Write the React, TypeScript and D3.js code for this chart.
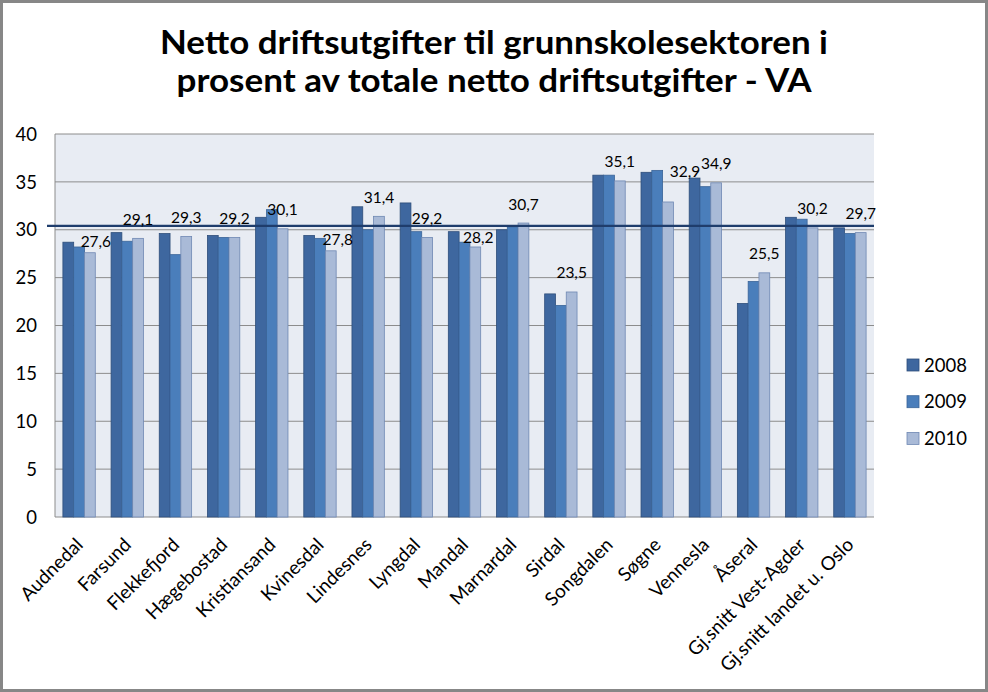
import React from "react";
import * as d3 from "d3";

const categories = [
  "Audnedal", "Farsund", "Flekkefjord", "Hægebostad", "Kristiansand", "Kvinesdal",
  "Lindesnes", "Lyngdal", "Mandal", "Marnardal", "Sirdal", "Songdalen", "Søgne",
  "Vennesla", "Åseral", "Gj.snitt Vest-Agder", "Gj.snitt landet u. Oslo",
];
const seriesNames = ["2008", "2009", "2010"];
const values2008 = [28.7, 29.7, 29.6, 29.4, 31.3, 29.4, 32.4, 32.8, 29.8, 30.0, 23.3, 35.7, 36.0, 35.4, 22.3, 31.3, 30.2];
const values2009 = [28.2, 28.8, 27.4, 29.2, 32.1, 29.1, 30.0, 29.8, 28.7, 30.3, 22.1, 35.7, 36.2, 34.5, 24.6, 31.1, 29.6];
const values2010 = [27.6, 29.1, 29.3, 29.2, 30.1, 27.8, 31.4, 29.2, 28.2, 30.7, 23.5, 35.1, 32.9, 34.9, 25.5, 30.2, 29.7];
const yTicks = [0, 5, 10, 15, 20, 25, 30, 35, 40];
const referenceValue = 30.4;
const titleLines = [
  "Netto driftsutgifter til grunnskolesektoren i",
  "prosent av totale netto driftsutgifter - VA",
];

// styling
const W = 988;
const H = 692;
const plot = { left: 55, right: 874, top: 134, bottom: 517 };
const fills = ["#3E679F", "#4A7EBB", "#A9BAD7"];
const strokes = ["#2E4E7A", "#3A6498", "#6F88B3"];
const FONT = "Lato, 'Open Sans', 'DejaVu Sans', sans-serif";
// manual label offsets (as in the original chart where some labels were moved)
const labelNudge: Record<string, [number, number]> = {
  Audnedal: [6, 8],
  Kvinesdal: [7, 8],
  Mandal: [3, 10],
  "Søgne": [17, -11],
};

export default function App() {
  const series = [values2008, values2009, values2010];
  const x0 = d3
    .scaleBand<string>()
    .domain(categories)
    .range([plot.left, plot.right])
    .paddingInner(0.328)
    .paddingOuter(0.164);
  const x1 = d3
    .scaleBand<string>()
    .domain(seriesNames)
    .range([0, x0.bandwidth()])
    .padding(0);
  const y = d3.scaleLinear().domain([0, 40]).range([plot.bottom, plot.top]);

  return (
    <svg
      width={W}
      height={H}
      style={{ position: "absolute", left: 0, top: 0, display: "block", background: "#fff" }}
      fontFamily={FONT}
    >
      <rect x={0} y={0} width={W} height={H} fill="#ffffff" />
      {/* title */}
      {titleLines.map((t, i) => (
        <text
          key={i}
          x={W / 2}
          y={54 + i * 38}
          textAnchor="middle"
          fontSize={32}
          fontWeight={700}
          fill="#000"
          textLength={i === 0 ? 668 : 635}
          lengthAdjust="spacingAndGlyphs"
        >
          {t}
        </text>
      ))}
      {/* plot background */}
      <rect
        x={plot.left}
        y={plot.top}
        width={plot.right - plot.left}
        height={plot.bottom - plot.top}
        fill="#E8ECF3"
      />
      {/* gridlines */}
      {yTicks.map((t) => (
        <line
          key={t}
          x1={plot.left}
          x2={plot.right}
          y1={y(t)}
          y2={y(t)}
          stroke="#8C8C8C"
          strokeWidth={1}
        />
      ))}
      <line x1={plot.left} x2={plot.left} y1={plot.top} y2={plot.bottom} stroke="#8C8C8C" strokeWidth={1} />
      {/* y tick labels */}
      {yTicks.map((t) => (
        <text key={t} x={37} y={y(t)} dy="0.36em" textAnchor="end" fontSize={18.5} fill="#000">
          {t}
        </text>
      ))}
      {/* bars */}
      {categories.map((c, ci) => (
        <g key={c} transform={`translate(${x0(c)},0)`}>
          {seriesNames.map((s, si) => {
            const v = series[si][ci];
            return (
              <rect
                key={s}
                x={x1(s)}
                y={y(v)}
                width={x1.bandwidth()}
                height={y(0) - y(v)}
                fill={fills[si]}
                stroke={strokes[si]}
                strokeWidth={0.8}
              />
            );
          })}
        </g>
      ))}
      {/* reference line */}
      <line
        x1={plot.left - 8}
        x2={plot.right}
        y1={y(referenceValue)}
        y2={y(referenceValue)}
        stroke="#1F3D6C"
        strokeWidth={2.2}
      />
      {/* data labels for 2010 */}
      {categories.map((c, ci) => {
        const v = values2010[ci];
        const cx = (x0(c) as number) + (x1("2010") as number) + x1.bandwidth() / 2;
        const [dx, dy] = labelNudge[c] || [0, 0];
        return (
          <text
            key={c}
            x={cx + dx}
            y={y(v) - 13.5 + dy}
            textAnchor="middle"
            fontSize={15.5}
            fill="#000"
          >
            {d3.format(".1f")(v).replace(".", ",")}
          </text>
        );
      })}
      {/* x-axis category labels */}
      {categories.map((c) => {
        const cx = (x0(c) as number) + x0.bandwidth() / 2;
        return (
          <text
            key={c}
            transform={`translate(${cx + 5},${546}) rotate(-45)`}
            textAnchor="end"
            fontSize={19}
            fill="#000"
          >
            {c}
          </text>
        );
      })}
      {/* legend */}
      {seriesNames.map((s, si) => (
        <g key={s} transform={`translate(907,${365 + si * 36.7})`}>
          <rect x={0} y={-6} width={12} height={12} fill={fills[si]} stroke={strokes[si]} strokeWidth={0.8} />
          <text x={17} y={0} dy="0.36em" fontSize={18.5} fill="#000">
            {s}
          </text>
        </g>
      ))}
      {/* outer border */}
      <rect x={1.5} y={1.5} width={W - 3} height={H - 3} fill="none" stroke="#878787" strokeWidth={3} />
    </svg>
  );
}
